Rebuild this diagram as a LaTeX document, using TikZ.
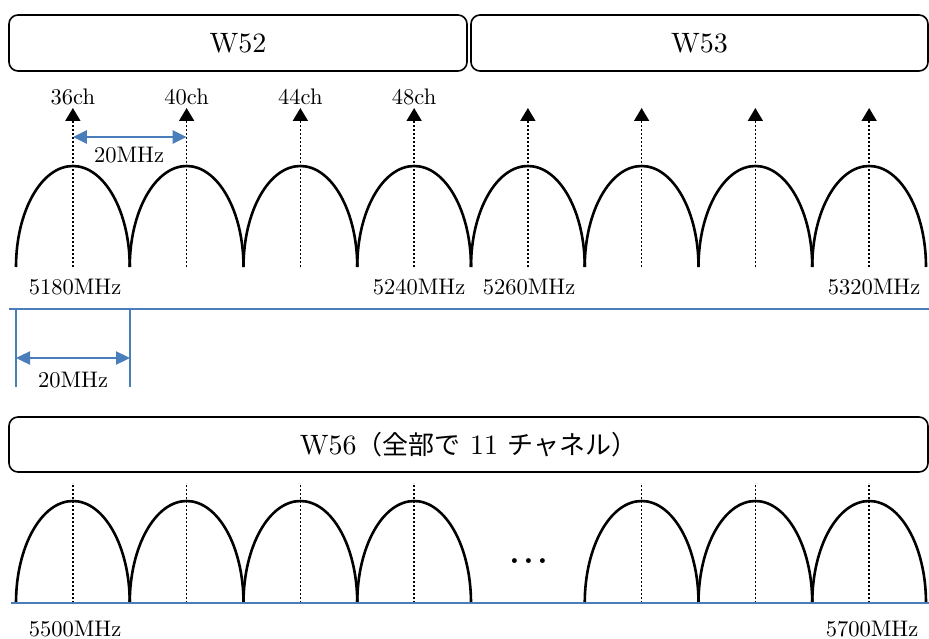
\documentclass[tikz,border=0pt]{standalone}
\usepackage{fontspec}
\setmainfont{lmroman10-regular.otf}
\newfontfamily\cjk{Noto Sans CJK JP}
\usetikzlibrary{arrows.meta}
\definecolor{lineblue}{RGB}{74,126,187}
\newcommand\jp[1]{{\cjk\fontsize{26}{30}\selectfont #1}}
\begin{document}
\begin{tikzpicture}[x=1pt,y=-1pt,
  band/.style={draw, line width=1.6pt, rounded corners=9pt, minimum height=56pt, inner sep=0pt, font=\fontsize{28}{30}\selectfont},
  arch/.style={line width=2.6pt},
  chanline/.style={line width=1.7pt, dash pattern=on 2pt off 2pt},
  chanarrow/.style={chanline, -{Triangle[length=13pt,width=15pt]}},
  lbl/.style={font=\fontsize{22.5}{24}\selectfont, inner sep=0pt},
  blueline/.style={draw=lineblue, line width=2pt},
  bluearrow/.style={lineblue, line width=2.4pt, {Triangle[length=14pt,width=13pt]}-{Triangle[length=14pt,width=13pt]}},
]
\useasboundingbox (0,0) rectangle (929,639);
\fill[white] (0,0) rectangle (929,639);

% band boxes
\node[band, minimum width=458pt] (w52) at (238,43) {W52};
\node[band, minimum width=457pt] (w53) at (699.5,43) {W53};

% top arches
\foreach \i in {0,...,7} {
  \pgfmathsetmacro\bx{16+113.75*\i}
  \draw[arch] (\bx,267) arc[start angle=180,end angle=0,x radius=56.875pt,y radius=101pt];
}
% top channel arrows
\foreach \i in {0,...,7} {
  \pgfmathsetmacro\cx{72.875+113.75*\i}
  \coordinate (tb\i) at (\cx,267);
  \coordinate (tt\i) at (\cx,108);
  \draw[chanarrow] (tb\i) -- (tt\i);
}
\node[lbl] (c36) at (72.9,97) {36ch};
\node[lbl] (c40) at (186.6,97) {40ch};
\node[lbl] (c44) at (300.4,97) {44ch};
\node[lbl] (c48) at (414.1,97) {48ch};

% 20MHz spacing arrow (top)
\coordinate (sa) at (72.9,137);
\coordinate (sb) at (186.6,137);
\draw[bluearrow] (sa) -- (sb);
\node[lbl] (s20) at (129,155) {20MHz};

% frequency labels (top)
\node[lbl] (f5180) at (75,287) {5180MHz};
\node[lbl] (f5240) at (419,287) {5240MHz};
\node[lbl] (f5260) at (529,287) {5260MHz};
\node[lbl] (f5320) at (874,287) {5320MHz};

% blue axis with bandwidth marker
\coordinate (ax1) at (9,309);
\coordinate (ax2) at (929,309);
\draw[blueline] (ax1) -- (ax2);
\coordinate (v1t) at (16,309);
\coordinate (v1b) at (16,387);
\coordinate (v2t) at (130,309);
\coordinate (v2b) at (130,387);
\draw[blueline] (v1t) -- (v1b);
\draw[blueline] (v2t) -- (v2b);
\coordinate (ba) at (16,358);
\coordinate (bb) at (130,358);
\draw[bluearrow] (ba) -- (bb);
\node[lbl] (b20) at (73,380) {20MHz};

% W56 box
\node[band, minimum width=919pt, minimum height=55pt] (w56) at (468.5,444.5)
  {W56\jp{（全部で}\ 11\ \jp{チャネル）}};

% bottom arches
\foreach \i in {0,1,2,3,5,6,7} {
  \pgfmathsetmacro\bx{16+113.75*\i}
  \draw[arch] (\bx,603) arc[start angle=180,end angle=0,x radius=56.875pt,y radius=102pt];
  \pgfmathsetmacro\cx{72.875+113.75*\i}
  \coordinate (lb\i) at (\cx,603);
  \coordinate (lt\i) at (\cx,483);
  \draw[chanline] (lb\i) -- (lt\i);
}
\node[font=\fontsize{46}{46}\selectfont, inner sep=0pt, anchor=base] (dots) at (529,563.5) {.\kern1.4pt.\kern1.4pt.};

% bottom axis
\coordinate (bx1) at (11,603);
\coordinate (bx2) at (929,603);
\draw[blueline] (bx1) -- (bx2);

\node[lbl] (f5500) at (75,629) {5500MHz};
\node[lbl] (f5700) at (872,629) {5700MHz};
\end{tikzpicture}
\end{document}
